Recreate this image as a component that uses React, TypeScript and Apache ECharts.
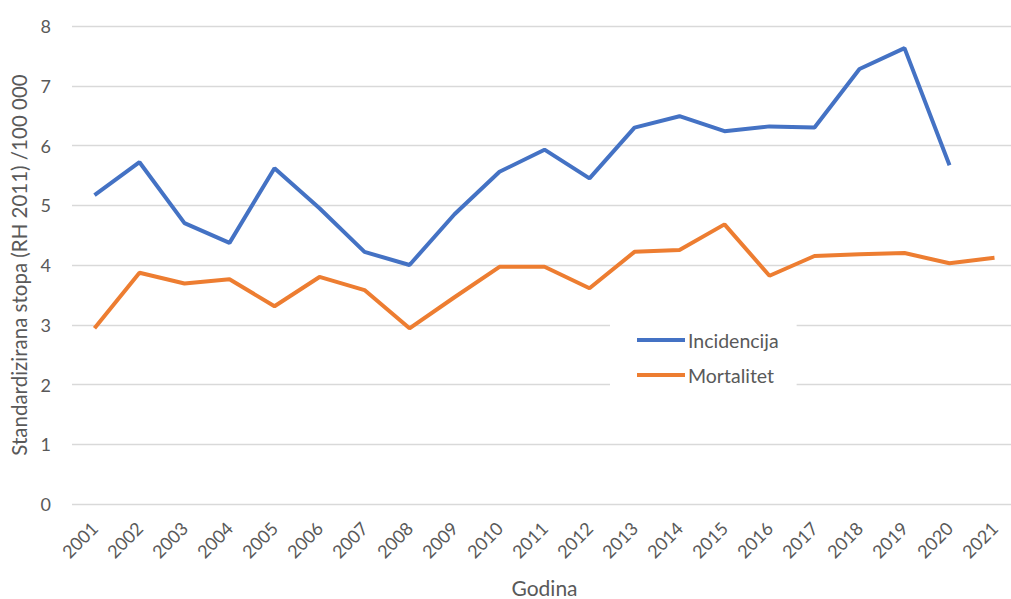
import React, { useEffect, useRef } from "react";
import * as echarts from "echarts";

const years = ["2001","2002","2003","2004","2005","2006","2007","2008","2009","2010","2011","2012","2013","2014","2015","2016","2017","2018","2019","2020","2021"];
const incidencija = [5.17, 5.72, 4.7, 4.37, 5.62, 4.95, 4.22, 4.0, 4.85, 5.56, 5.93, 5.45, 6.3, 6.49, 6.24, 6.32, 6.3, 7.28, 7.63, 5.67, null];
const mortalitet = [2.94, 3.87, 3.69, 3.76, 3.31, 3.8, 3.58, 2.94, 3.46, 3.97, 3.97, 3.61, 4.22, 4.25, 4.68, 3.82, 4.15, 4.18, 4.2, 4.03, 4.12];
const yTicks = [0, 1, 2, 3, 4, 5, 6, 7, 8];

const FONT = "Lato, 'Open Sans', sans-serif";
const GRAY = "#595959";

export default function App() {
  const ref = useRef<HTMLDivElement>(null);
  useEffect(() => {
    document.body.style.margin = "0";
    const chart = echarts.init(ref.current!, null, { renderer: "svg" });
    chart.setOption({
      animation: false,
      backgroundColor: "#ffffff",
      grid: { left: 72, top: 26, width: 945, height: 478, outerBoundsMode: "none", containLabel: false },
      legend: {
        orient: "vertical",
        left: 610,
        top: 314,
        padding: [16, 18, 16, 27],
        backgroundColor: "#ffffff",
        itemWidth: 48,
        itemHeight: 4,
        itemGap: 15,
        icon: "rect",
        textStyle: { fontFamily: FONT, fontSize: 19.5, color: GRAY, padding: [0, 0, 0, -2] },
        data: ["Incidencija", "Mortalitet"],
      },
      xAxis: {
        type: "category",
        data: years,
        boundaryGap: true,
        name: "Godina",
        nameLocation: "middle",
        nameGap: 73,
        nameTextStyle: { fontFamily: FONT, fontSize: 21, color: GRAY },
        axisLine: { show: false },
        axisTick: { show: false },
        axisLabel: { rotate: 45, margin: 21, fontFamily: FONT, fontSize: 18, color: GRAY },
        splitLine: { show: false },
      },
      yAxis: {
        type: "value",
        min: yTicks[0],
        max: yTicks[yTicks.length - 1],
        interval: 1,
        name: "Standardizirana stopa (RH 2011) /100 000",
        nameLocation: "middle",
        nameGap: 41,
        nameTextStyle: { fontFamily: FONT, fontSize: 20.5, color: GRAY },
        axisLine: { show: false },
        axisTick: { show: false },
        axisLabel: { margin: 21, fontFamily: FONT, fontSize: 18, color: GRAY },
        splitLine: { lineStyle: { color: "#d9d9d9", width: 1.3 } },
      },
      series: [
        {
          name: "Incidencija",
          type: "line",
          data: incidencija,
          showSymbol: false,
          symbol: "none",
          lineStyle: { color: "#4472C4", width: 4 },
          itemStyle: { color: "#4472C4" },
          z: 3,
        },
        {
          name: "Mortalitet",
          type: "line",
          data: mortalitet,
          showSymbol: false,
          symbol: "none",
          lineStyle: { color: "#ED7D31", width: 4 },
          itemStyle: { color: "#ED7D31" },
          z: 2,
        },
      ],
    });
    return () => chart.dispose();
  }, []);
  return <div ref={ref} style={{ width: 1011, height: 599 }} />;
}
